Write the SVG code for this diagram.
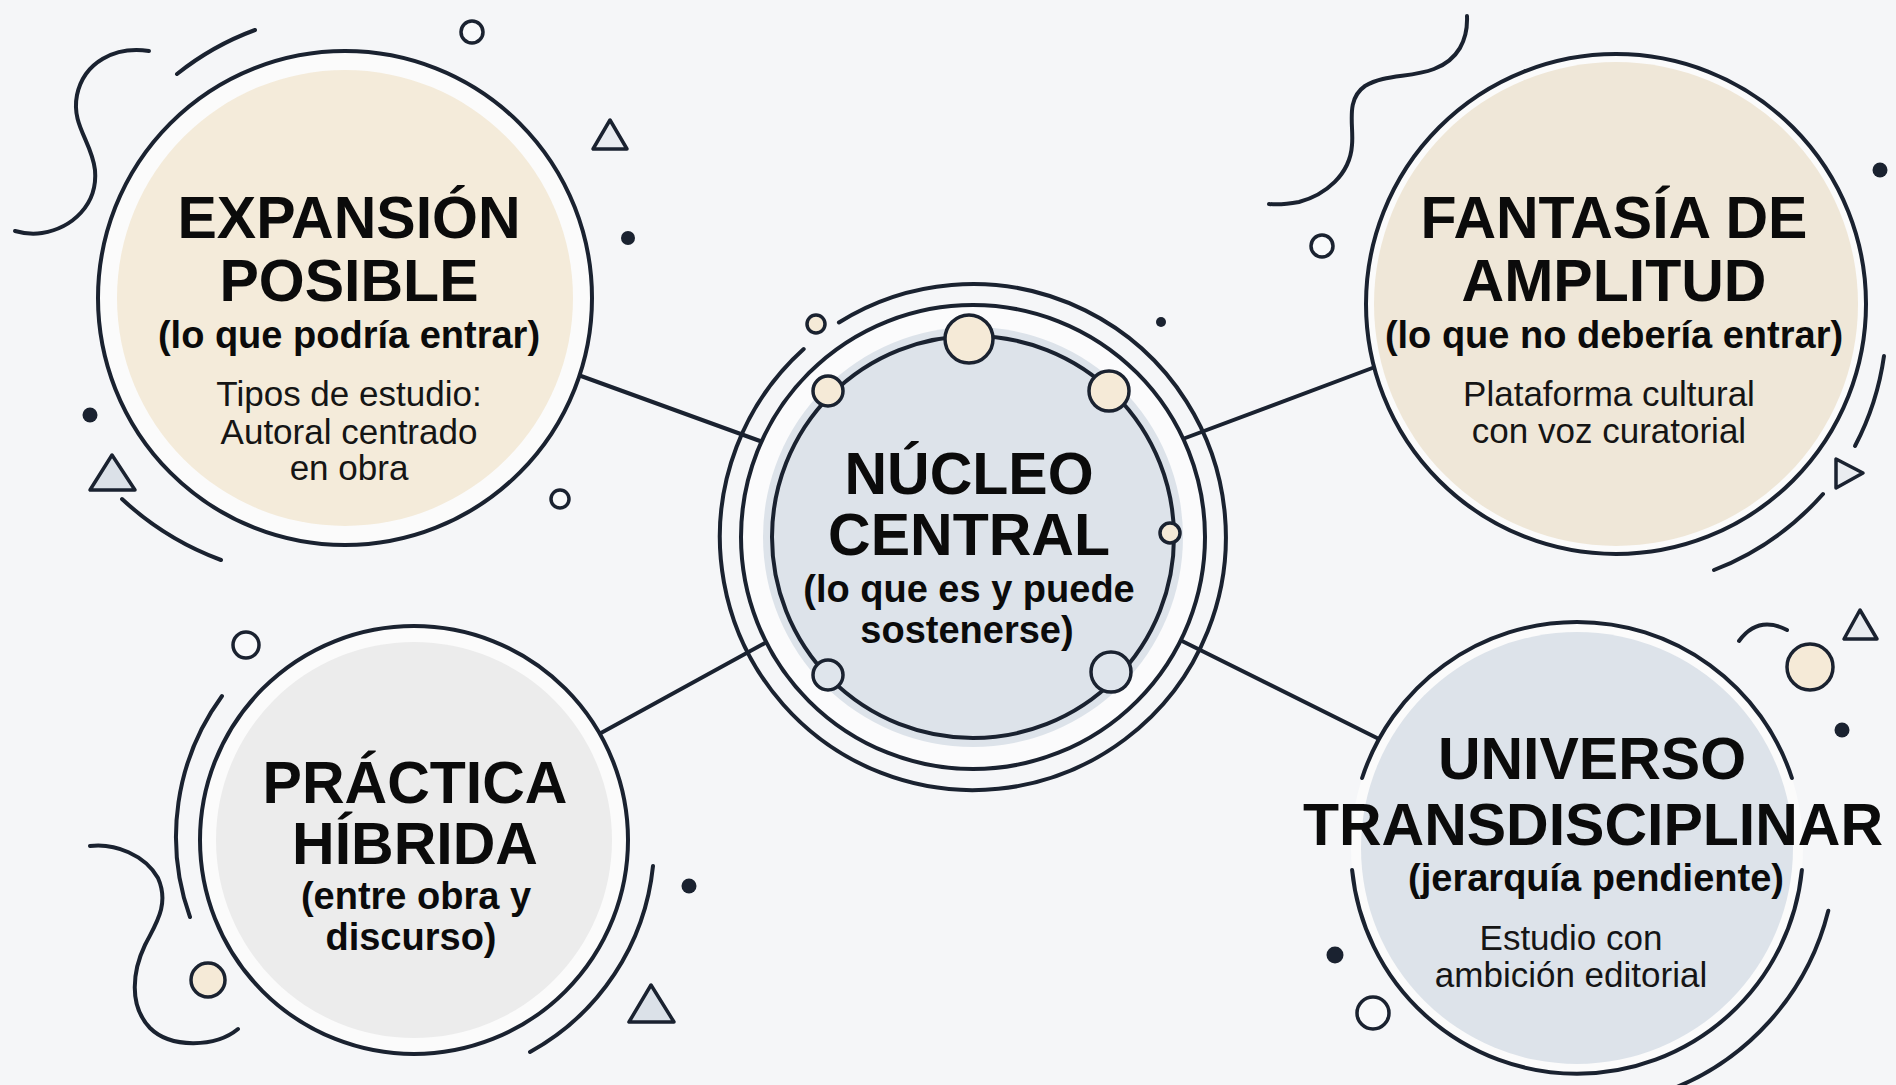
<svg xmlns="http://www.w3.org/2000/svg" width="1896" height="1085" viewBox="0 0 1896 1085">
<style>
.ln{fill:none;stroke:#1a2230;stroke-width:4;stroke-linecap:round;stroke-linejoin:round}
.dk{fill:#1a2230}
.oc{fill:#f8f9fa;stroke:#1a2230;stroke-width:3.5}
.cr{fill:#f5ead7;stroke:#1a2230;stroke-width:3.5}
.bl{fill:#dfe5ec;stroke:#1a2230;stroke-width:3.5}
.tri{fill:#e9ecf0;stroke:#1a2230;stroke-width:3.5;stroke-linejoin:round}
.trib{fill:#dbe1e8;stroke:#1a2230;stroke-width:3.5;stroke-linejoin:round}
.ring{fill:#fbfbfc;stroke:#1a2230;stroke-width:4}
text{font-family:"Liberation Sans",Arial,sans-serif;text-anchor:middle;fill:#0b0b0b}
.t{font-size:59px;font-weight:700}
.s{font-size:38px;font-weight:700}
.b{font-size:35px;font-weight:400;fill:#151515}
</style>
<rect width="1896" height="1085" fill="#f5f6f8"/>

<g id="connectors">
<line class="ln" x1="570" y1="372" x2="760" y2="441"/>
<line class="ln" x1="1375" y1="367" x2="1180" y2="440"/>
<line class="ln" x1="590" y1="739" x2="765" y2="643"/>
<line class="ln" x1="1178" y1="639" x2="1385" y2="742"/>
</g>

<g id="decorations">
<path class="ln" d="M149,51 C115,46 84,62 77,95 C71,125 92,142 95,170 C98,205 72,228 42,233 C30,235 22,233 15,231"/>
<path class="ln" d="M177,74 A280,280 0 0 1 255,30"/>
<circle class="oc" cx="472" cy="32" r="11"/>
<polygon class="tri" points="610,120 593,149 627,149"/>
<circle class="dk" cx="628" cy="238" r="7"/>
<circle class="dk" cx="90" cy="415" r="7.5"/>
<polygon class="trib" points="112,455 90,490 135,490"/>
<circle class="oc" cx="560" cy="499" r="9"/>
<path class="ln" d="M122,499 A296,296 0 0 0 221,560"/>

<path class="ln" d="M1467,16 C1468,40 1458,60 1434,69 C1410,78 1385,74 1365,86 C1345,100 1354,125 1352,145 C1350,175 1325,195 1299,202 C1288,204 1278,205 1269,204"/>
<circle class="oc" cx="1322" cy="246" r="11"/>
<circle class="dk" cx="1880" cy="170" r="7.5"/>
<path class="ln" d="M1884,356 A276,276 0 0 1 1855,446"/>
<polygon class="tri" points="1836,459 1836,488 1863,473"/>
<path class="ln" d="M1823,494 A282,282 0 0 1 1714,570"/>

<circle class="oc" cx="246" cy="645" r="13"/>
<path class="ln" d="M222,696 A238,238 0 0 0 190,917"/>
<path class="ln" d="M90,846 C115,843 145,855 158,878 C170,905 155,925 145,945 C133,970 128,1005 150,1028 C170,1048 215,1048 238,1029"/>
<circle class="cr" cx="208" cy="980" r="17"/>
<path class="ln" d="M653,866 A240,240 0 0 1 530,1052"/>
<circle class="dk" cx="689" cy="886" r="7.5"/>
<polygon class="trib" points="651,985 629,1022 674,1022"/>

<path class="ln" d="M1739,641 Q1758,615 1787,630"/>
<circle class="cr" cx="1810" cy="667" r="23"/>
<polygon class="tri" points="1860,610 1844,639 1877,639"/>
<circle class="dk" cx="1842" cy="730" r="7.5"/>
<circle class="dk" cx="1335" cy="955" r="8.5"/>
<circle class="oc" cx="1373" cy="1013" r="16"/>
<path class="ln" d="M1828.3,910.7 A259,259 0 0 1 1665.6,1091.4"/>
<circle class="dk" cx="1161" cy="322" r="5"/>
</g>

<g id="node-expansion">
<circle cx="345" cy="298" r="247" fill="#fbfbfb" stroke="#1a2230" stroke-width="4"/>
<circle cx="345" cy="298" r="228" fill="#f4ebda"/>
<text class="t" x="349" y="238">EXPANSIÓN</text>
<text class="t" x="349" y="301">POSIBLE</text>
<text class="s" x="349" y="348">(lo que podría entrar)</text>
<text class="b" x="349" y="406">Tipos de estudio:</text>
<text class="b" x="349" y="444">Autoral centrado</text>
<text class="b" x="349" y="480">en obra</text>
</g>

<g id="node-fantasia">
<circle cx="1616" cy="304" r="250" fill="#fbfbfb" stroke="#1a2230" stroke-width="4"/>
<circle cx="1616" cy="304" r="242" fill="#efe7d8"/>
<text class="t" x="1614" y="238">FANTASÍA DE</text>
<text class="t" x="1614" y="301">AMPLITUD</text>
<text class="s" x="1614" y="348">(lo que no debería entrar)</text>
<text class="b" x="1609" y="406">Plataforma cultural</text>
<text class="b" x="1609" y="443">con voz curatorial</text>
</g>

<g id="node-nucleo">
<path class="ln" d="M838.9,322.5 A253,253 0 1 1 803.7,349.0"/>
<circle class="ring" cx="973" cy="537" r="232"/>
<circle cx="973" cy="537" r="210" fill="#dde3ea"/>
<circle cx="973" cy="537" r="201" fill="none" stroke="#1a2230" stroke-width="4"/>
<circle class="cr" cx="816" cy="324" r="9"/>
<circle class="cr" cx="969" cy="339" r="24"/>
<circle class="cr" cx="828" cy="391" r="15"/>
<circle class="cr" cx="1109" cy="391" r="20"/>
<circle class="cr" cx="1170" cy="533" r="10"/>
<circle class="bl" cx="828" cy="675" r="15"/>
<circle class="bl" cx="1111" cy="672" r="20"/>
<text class="t" x="969" y="494">NÚCLEO</text>
<text class="t" x="969" y="555">CENTRAL</text>
<text class="s" x="969" y="602">(lo que es y puede</text>
<text class="s" x="967" y="643">sostenerse)</text>
</g>

<g id="node-practica">
<circle cx="414" cy="840" r="214" fill="#fbfbfb" stroke="#1a2230" stroke-width="4"/>
<circle cx="414" cy="840" r="198" fill="#ececec"/>
<text class="t" x="415" y="803">PRÁCTICA</text>
<text class="t" x="415" y="864">HÍBRIDA</text>
<text class="s" x="416" y="909">(entre obra y</text>
<text class="s" x="411" y="950">discurso)</text>
</g>

<g id="node-universo">
<circle cx="1577" cy="848" r="226" fill="#fbfbfb"/>
<circle cx="1577" cy="848" r="216" fill="#dde3ea"/>
<path class="ln" d="M1362.1,778 A226,226 0 0 1 1791.9,778"/>
<path class="ln" d="M1801.9,870 A226,226 0 0 1 1352.1,870"/>
<text class="t" x="1592" y="779">UNIVERSO</text>
<text class="t" x="1593" y="845">TRANSDISCIPLINAR</text>
<text class="s" x="1596" y="891">(jerarquía pendiente)</text>
<text class="b" x="1571" y="950">Estudio con</text>
<text class="b" x="1571" y="987">ambición editorial</text>
</g>
</svg>
